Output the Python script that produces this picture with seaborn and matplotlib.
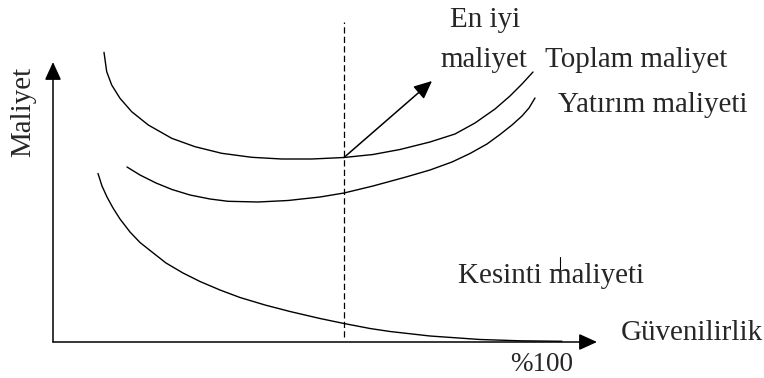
import matplotlib
matplotlib.use("Agg")
import matplotlib.pyplot as plt
import numpy as np
import seaborn as sns

# curves (x: reliability, y: cost, arbitrary units, origin at the axes corner)
toplam_x = [51, 53.7, 58.7, 67, 78.7, 95.3, 118.7, 142, 168.7, 198.7, 228.7, 258.7,
            291, 320, 347, 377, 402, 422, 442, 457, 469, 480]
toplam_y = [289.7, 270.3, 257, 243.7, 230.3, 217, 203.7, 195.3, 188.7, 184.7, 183, 183,
            184.5, 187.5, 192.5, 200, 208, 219, 233, 246, 258, 270]

yatirim_x = [74, 87, 103, 119, 137, 157, 175, 205, 235, 267, 291, 320, 353, 377, 399,
             417, 434, 447, 459, 469, 476, 482]
yatirim_y = [175, 167, 159, 152.5, 147, 143, 140.7, 140, 141.5, 145, 149, 156, 165, 172,
             180, 188.5, 198, 207.5, 217, 226, 234, 244]

kesinti_x = [45, 49, 54, 60, 67, 77, 87, 99, 113, 130, 147, 167, 187, 212, 237, 267,
             291, 317, 337, 377, 427, 467, 509]
kesinti_y = [168.5, 156, 145, 134, 123, 110, 99.5, 90, 79, 69, 60.5, 52, 44.5, 37, 30.5,
             23.5, 18.5, 13.5, 10.5, 6, 2.5, 1.2, 0.7]

optimum_x = 291
optimum_y = 184.5

sns.set_theme(style="white")
plt.rcParams["font.family"] = ["Liberation Serif", "DejaVu Serif"]

fig = plt.figure(figsize=(7.64, 3.78), dpi=100)
ax = fig.add_axes([0, 0, 1, 1])
ax.set_xlim(-53, 711)
ax.set_ylim(-36, 342)
ax.axis("off")

for xs, ys in [(toplam_x, toplam_y), (yatirim_x, yatirim_y), (kesinti_x, kesinti_y)]:
    sns.lineplot(x=xs, y=ys, ax=ax, color="black", lw=1.0, estimator=None)

# axes with arrow heads
arrow = dict(arrowstyle="-|>,head_length=1.1,head_width=0.5", mutation_scale=10,
             color="black", lw=1.1, shrinkA=0, shrinkB=0)
ax.annotate("", xy=(0, 280), xytext=(0, 0), arrowprops=arrow)
ax.annotate("", xy=(544, 0), xytext=(0, 0), arrowprops=arrow)

# optimum marker
ax.plot([optimum_x, optimum_x], [5, 320], color="black", lw=0.9, ls=(0, (5, 2.6)))
ax.annotate("", xy=(379, 261), xytext=(optimum_x, optimum_y), arrowprops=arrow)
ax.plot([507, 507], [60, 85], color="black", lw=0.8)

fs = 20.9
ax.text(432, 315, "En iyi", fontsize=fs, ha="center", va="baseline")
ax.text(431, 275, "maliyet", fontsize=fs, ha="center", va="baseline")
ax.text(492, 275, "Toplam maliyet", fontsize=fs, ha="left", va="baseline")
ax.text(505, 230, "Yatırım maliyeti", fontsize=fs, ha="left", va="baseline")
ax.text(405, 59, "Kesinti maliyeti", fontsize=fs, ha="left", va="baseline")
ax.text(568, 2, "Güvenilirlik", fontsize=fs, ha="left", va="baseline")
ax.text(488.5, -29, "%100", fontsize=19.5, ha="center", va="baseline")
ax.text(-30, 230, "Maliyet", fontsize=fs, rotation=90, ha="center", va="center")

fig.savefig("out.png", dpi=100, facecolor="white")
